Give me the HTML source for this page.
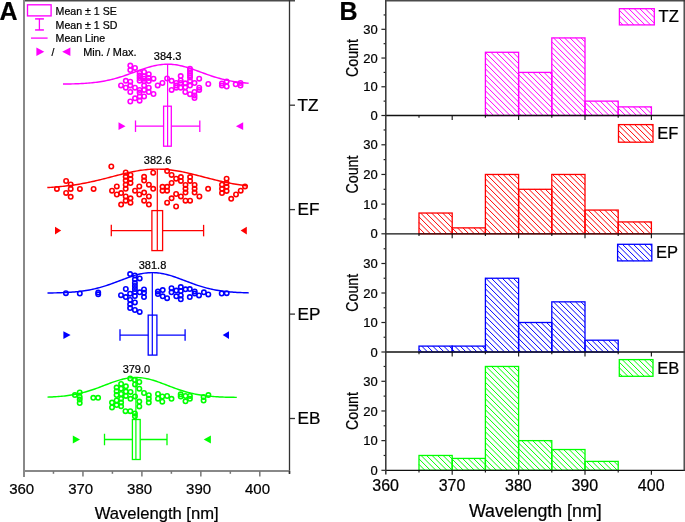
<!DOCTYPE html><html><head><meta charset="utf-8"><style>html,body{margin:0;padding:0;background:#fff;}svg{display:block;will-change:transform;}text{font-family:"Liberation Sans", sans-serif;stroke:#000;stroke-width:0.22px;}</style></head><body>
<svg width="685" height="522" viewBox="0 0 685 522">
<rect width="685" height="522" fill="#fff"/>
<line x1="24.0" y1="0.75" x2="295" y2="0.75" stroke="#4a4a4a" stroke-width="1.5"/>
<line x1="289.5" y1="0" x2="289.5" y2="474" stroke="#333" stroke-width="1.3"/>
<line x1="24.0" y1="0" x2="24.0" y2="477" stroke="#888" stroke-width="2"/>
<line x1="24.0" y1="471.0" x2="289.5" y2="471.0" stroke="#888" stroke-width="1.8"/>
<line x1="53.47" y1="471.0" x2="53.47" y2="473.8" stroke="#777" stroke-width="1.5"/>
<line x1="82.95" y1="471.0" x2="82.95" y2="476.5" stroke="#777" stroke-width="1.5"/>
<line x1="112.42" y1="471.0" x2="112.42" y2="473.8" stroke="#777" stroke-width="1.5"/>
<line x1="141.9" y1="471.0" x2="141.9" y2="476.5" stroke="#777" stroke-width="1.5"/>
<line x1="171.38" y1="471.0" x2="171.38" y2="473.8" stroke="#777" stroke-width="1.5"/>
<line x1="200.85" y1="471.0" x2="200.85" y2="476.5" stroke="#777" stroke-width="1.5"/>
<line x1="230.32" y1="471.0" x2="230.32" y2="473.8" stroke="#777" stroke-width="1.5"/>
<line x1="259.8" y1="471.0" x2="259.8" y2="476.5" stroke="#777" stroke-width="1.5"/>
<line x1="289.5" y1="471.0" x2="289.5" y2="473.8" stroke="#333" stroke-width="1.5"/>
<text transform="translate(21.7,494.4) scale(1,1)" font-size="15" text-anchor="middle" fill="#000">360</text>
<text transform="translate(80.65,494.4) scale(1,1)" font-size="15" text-anchor="middle" fill="#000">370</text>
<text transform="translate(139.6,494.4) scale(1,1)" font-size="15" text-anchor="middle" fill="#000">380</text>
<text transform="translate(198.55,494.4) scale(1,1)" font-size="15" text-anchor="middle" fill="#000">390</text>
<text transform="translate(257.5,494.4) scale(1,1)" font-size="15" text-anchor="middle" fill="#000">400</text>
<text x="156.7" y="519.1" font-size="16.6" text-anchor="middle" fill="#000">Wavelength [nm]</text>
<line x1="289.5" y1="105.2" x2="295" y2="105.2" stroke="#333" stroke-width="1.3"/>
<text transform="translate(297.5,110.8) scale(1.1,1)" font-size="15.6" fill="#000" stroke="#000" stroke-width="0.25">TZ</text>
<line x1="289.5" y1="209.6" x2="295" y2="209.6" stroke="#333" stroke-width="1.3"/>
<text transform="translate(297.5,215.2) scale(1.1,1)" font-size="15.6" fill="#000" stroke="#000" stroke-width="0.25">EF</text>
<line x1="289.5" y1="314.1" x2="295" y2="314.1" stroke="#333" stroke-width="1.3"/>
<text transform="translate(297.5,319.7) scale(1.1,1)" font-size="15.6" fill="#000" stroke="#000" stroke-width="0.25">EP</text>
<line x1="289.5" y1="418.5" x2="295" y2="418.5" stroke="#333" stroke-width="1.3"/>
<text transform="translate(297.5,424.1) scale(1.1,1)" font-size="15.6" fill="#000" stroke="#000" stroke-width="0.25">EB</text>
<text x="-0.6" y="19.7" font-size="25" font-weight="bold" fill="#000">A</text>
<rect x="27.5" y="4.8" width="23.6" height="11.1" fill="none" stroke="#ff00ff" stroke-width="1.35"/>
<line x1="39.4" y1="18.9" x2="39.4" y2="29.95" stroke="#ff00ff" stroke-width="1.3"/>
<line x1="35.1" y1="18.9" x2="43.9" y2="18.9" stroke="#ff00ff" stroke-width="1.5"/>
<line x1="35.1" y1="29.95" x2="43.9" y2="29.95" stroke="#ff00ff" stroke-width="1.5"/>
<line x1="31" y1="38.1" x2="47.6" y2="38.1" stroke="#ff00ff" stroke-width="1.3"/>
<polygon points="36.4,47.5 44.3,51.8 36.4,56.1" fill="#ff00ff"/>
<polygon points="70.4,47.5 62.2,51.8 70.4,56.1" fill="#ff00ff"/>
<text x="55.6" y="14.6" font-size="10.6" fill="#000">Mean ± 1 SE</text>
<text x="55.6" y="28.5" font-size="10.6" fill="#000">Mean ± 1 SD</text>
<text x="55.6" y="42.4" font-size="10.6" fill="#000">Mean Line</text>
<text x="51.5" y="56.2" font-size="10.4" fill="#000">/</text>
<text x="83.2" y="56.3" font-size="10.9" fill="#000">Min. / Max.</text>
<polyline points="63,84.07 64.55,84.05 66.09,84.02 67.64,84 69.19,83.97 70.73,83.93 72.28,83.89 73.83,83.85 75.37,83.8 76.92,83.74 78.47,83.68 80.01,83.61 81.56,83.53 83.11,83.45 84.65,83.35 86.2,83.25 87.75,83.13 89.29,83 90.84,82.86 92.39,82.71 93.93,82.54 95.48,82.36 97.03,82.17 98.57,81.96 100.12,81.73 101.67,81.48 103.21,81.22 104.76,80.94 106.31,80.64 107.85,80.32 109.4,79.98 110.95,79.62 112.49,79.24 114.04,78.84 115.59,78.42 117.13,77.99 118.68,77.53 120.23,77.06 121.77,76.57 123.32,76.07 124.87,75.55 126.41,75.02 127.96,74.48 129.51,73.93 131.05,73.37 132.6,72.8 134.15,72.24 135.69,71.67 137.24,71.1 138.79,70.54 140.33,69.98 141.88,69.44 143.43,68.91 144.97,68.39 146.52,67.89 148.07,67.41 149.61,66.96 151.16,66.53 152.71,66.14 154.25,65.77 155.8,65.44 157.35,65.14 158.89,64.88 160.44,64.67 161.99,64.49 163.53,64.35 165.08,64.26 166.63,64.21 168.17,64.2 169.72,64.24 171.27,64.32 172.81,64.45 174.36,64.62 175.91,64.82 177.45,65.07 179,65.36 180.55,65.68 182.09,66.04 183.64,66.43 185.19,66.85 186.73,67.29 188.28,67.77 189.83,68.26 191.37,68.77 192.92,69.3 194.47,69.84 196.01,70.39 197.56,70.96 199.11,71.52 200.65,72.09 202.2,72.66 203.75,73.22 205.29,73.78 206.84,74.34 208.39,74.88 209.93,75.42 211.48,75.94 213.03,76.45 214.57,76.94 216.12,77.41 217.67,77.87 219.21,78.31 220.76,78.74 222.31,79.14 223.85,79.52 225.4,79.89 226.95,80.23 228.49,80.56 230.04,80.86 231.59,81.15 233.13,81.42 234.68,81.67 236.23,81.9 237.77,82.11 239.32,82.31 240.87,82.5 242.41,82.67 243.96,82.82 245.51,82.97 247.05,83.1 248.6,83.22" fill="none" stroke="#ff00ff" stroke-width="1.45"/>
<line x1="167.6" y1="64.2" x2="167.6" y2="146.2" stroke="#ff00ff" stroke-width="1.2"/>
<line x1="135.5" y1="126.2" x2="199.8" y2="126.2" stroke="#ff00ff" stroke-width="1.3"/>
<line x1="135.5" y1="120.45" x2="135.5" y2="131.95" stroke="#ff00ff" stroke-width="1.3"/>
<line x1="199.8" y1="120.45" x2="199.8" y2="131.95" stroke="#ff00ff" stroke-width="1.3"/>
<rect x="163.6" y="106.2" width="7.7" height="40" fill="#fff" stroke="#ff00ff" stroke-width="1.3"/>
<line x1="167.6" y1="106.2" x2="167.6" y2="146.2" stroke="#ff00ff" stroke-width="1.2"/>
<polygon points="118.5,122.3 125.5,126.2 118.5,130.1" fill="#ff00ff"/>
<polygon points="243.2,122.3 235.9,126.2 243.2,130.1" fill="#ff00ff"/>
<text x="167.6" y="59.9" font-size="11" text-anchor="middle" fill="#000">384.3</text>
<circle cx="130.3" cy="65.6" r="2.2" fill="none" stroke="#ff00ff" stroke-width="1.6"/>
<circle cx="135" cy="67.9" r="2.2" fill="none" stroke="#ff00ff" stroke-width="1.6"/>
<circle cx="130.3" cy="70.1" r="2.2" fill="none" stroke="#ff00ff" stroke-width="1.6"/>
<circle cx="139.6" cy="72.8" r="2.2" fill="none" stroke="#ff00ff" stroke-width="1.6"/>
<circle cx="139.6" cy="75.4" r="2.2" fill="none" stroke="#ff00ff" stroke-width="1.6"/>
<circle cx="139.6" cy="78.1" r="2.2" fill="none" stroke="#ff00ff" stroke-width="1.6"/>
<circle cx="139.6" cy="80.7" r="2.2" fill="none" stroke="#ff00ff" stroke-width="1.6"/>
<circle cx="144.1" cy="72" r="2.2" fill="none" stroke="#ff00ff" stroke-width="1.6"/>
<circle cx="144.1" cy="76.5" r="2.2" fill="none" stroke="#ff00ff" stroke-width="1.6"/>
<circle cx="144.1" cy="78.7" r="2.2" fill="none" stroke="#ff00ff" stroke-width="1.6"/>
<circle cx="144.1" cy="81.3" r="2.2" fill="none" stroke="#ff00ff" stroke-width="1.6"/>
<circle cx="148.8" cy="74.2" r="2.2" fill="none" stroke="#ff00ff" stroke-width="1.6"/>
<circle cx="148.8" cy="78" r="2.2" fill="none" stroke="#ff00ff" stroke-width="1.6"/>
<circle cx="148.8" cy="81.1" r="2.2" fill="none" stroke="#ff00ff" stroke-width="1.6"/>
<circle cx="153.5" cy="78.7" r="2.2" fill="none" stroke="#ff00ff" stroke-width="1.6"/>
<circle cx="125.8" cy="80.8" r="2.2" fill="none" stroke="#ff00ff" stroke-width="1.6"/>
<circle cx="130.3" cy="81.7" r="2.2" fill="none" stroke="#ff00ff" stroke-width="1.6"/>
<circle cx="121" cy="85.4" r="2.2" fill="none" stroke="#ff00ff" stroke-width="1.6"/>
<circle cx="125.8" cy="87.7" r="2.2" fill="none" stroke="#ff00ff" stroke-width="1.6"/>
<circle cx="130.3" cy="85.4" r="2.2" fill="none" stroke="#ff00ff" stroke-width="1.6"/>
<circle cx="135" cy="87.7" r="2.2" fill="none" stroke="#ff00ff" stroke-width="1.6"/>
<circle cx="139.6" cy="89.9" r="2.2" fill="none" stroke="#ff00ff" stroke-width="1.6"/>
<circle cx="144.1" cy="85.4" r="2.2" fill="none" stroke="#ff00ff" stroke-width="1.6"/>
<circle cx="144.1" cy="89.9" r="2.2" fill="none" stroke="#ff00ff" stroke-width="1.6"/>
<circle cx="148.8" cy="87.7" r="2.2" fill="none" stroke="#ff00ff" stroke-width="1.6"/>
<circle cx="148.8" cy="92" r="2.2" fill="none" stroke="#ff00ff" stroke-width="1.6"/>
<circle cx="130.3" cy="92" r="2.2" fill="none" stroke="#ff00ff" stroke-width="1.6"/>
<circle cx="139.6" cy="92.5" r="2.2" fill="none" stroke="#ff00ff" stroke-width="1.6"/>
<circle cx="144.1" cy="96.4" r="2.2" fill="none" stroke="#ff00ff" stroke-width="1.6"/>
<circle cx="139.6" cy="96.4" r="2.2" fill="none" stroke="#ff00ff" stroke-width="1.6"/>
<circle cx="135" cy="98.3" r="2.2" fill="none" stroke="#ff00ff" stroke-width="1.6"/>
<circle cx="153.5" cy="94" r="2.2" fill="none" stroke="#ff00ff" stroke-width="1.6"/>
<circle cx="130.3" cy="101.5" r="2.2" fill="none" stroke="#ff00ff" stroke-width="1.6"/>
<circle cx="139.6" cy="100.7" r="2.2" fill="none" stroke="#ff00ff" stroke-width="1.6"/>
<circle cx="157.7" cy="85.4" r="2.2" fill="none" stroke="#ff00ff" stroke-width="1.6"/>
<circle cx="162.4" cy="83" r="2.2" fill="none" stroke="#ff00ff" stroke-width="1.6"/>
<circle cx="167.1" cy="78.5" r="2.2" fill="none" stroke="#ff00ff" stroke-width="1.6"/>
<circle cx="171.6" cy="80.8" r="2.2" fill="none" stroke="#ff00ff" stroke-width="1.6"/>
<circle cx="171.6" cy="89.9" r="2.2" fill="none" stroke="#ff00ff" stroke-width="1.6"/>
<circle cx="176.2" cy="83" r="2.2" fill="none" stroke="#ff00ff" stroke-width="1.6"/>
<circle cx="176.2" cy="85.5" r="2.2" fill="none" stroke="#ff00ff" stroke-width="1.6"/>
<circle cx="176.2" cy="87.7" r="2.2" fill="none" stroke="#ff00ff" stroke-width="1.6"/>
<circle cx="180.7" cy="76.1" r="2.2" fill="none" stroke="#ff00ff" stroke-width="1.6"/>
<circle cx="180.7" cy="80.4" r="2.2" fill="none" stroke="#ff00ff" stroke-width="1.6"/>
<circle cx="180.7" cy="83" r="2.2" fill="none" stroke="#ff00ff" stroke-width="1.6"/>
<circle cx="180.7" cy="87.7" r="2.2" fill="none" stroke="#ff00ff" stroke-width="1.6"/>
<circle cx="185.3" cy="83.3" r="2.2" fill="none" stroke="#ff00ff" stroke-width="1.6"/>
<circle cx="185.3" cy="87.3" r="2.2" fill="none" stroke="#ff00ff" stroke-width="1.6"/>
<circle cx="185.3" cy="92" r="2.2" fill="none" stroke="#ff00ff" stroke-width="1.6"/>
<circle cx="190" cy="68.8" r="2.2" fill="none" stroke="#ff00ff" stroke-width="1.6"/>
<circle cx="190" cy="71" r="2.2" fill="none" stroke="#ff00ff" stroke-width="1.6"/>
<circle cx="190" cy="73.2" r="2.2" fill="none" stroke="#ff00ff" stroke-width="1.6"/>
<circle cx="190" cy="75.4" r="2.2" fill="none" stroke="#ff00ff" stroke-width="1.6"/>
<circle cx="190" cy="77.6" r="2.2" fill="none" stroke="#ff00ff" stroke-width="1.6"/>
<circle cx="190" cy="80.9" r="2.2" fill="none" stroke="#ff00ff" stroke-width="1.6"/>
<circle cx="190" cy="85.6" r="2.2" fill="none" stroke="#ff00ff" stroke-width="1.6"/>
<circle cx="190" cy="94.2" r="2.2" fill="none" stroke="#ff00ff" stroke-width="1.6"/>
<circle cx="194.5" cy="83" r="2.2" fill="none" stroke="#ff00ff" stroke-width="1.6"/>
<circle cx="194.5" cy="92" r="2.2" fill="none" stroke="#ff00ff" stroke-width="1.6"/>
<circle cx="194.5" cy="95.5" r="2.2" fill="none" stroke="#ff00ff" stroke-width="1.6"/>
<circle cx="194.5" cy="98.1" r="2.2" fill="none" stroke="#ff00ff" stroke-width="1.6"/>
<circle cx="199.2" cy="78.7" r="2.2" fill="none" stroke="#ff00ff" stroke-width="1.6"/>
<circle cx="199.2" cy="87.7" r="2.2" fill="none" stroke="#ff00ff" stroke-width="1.6"/>
<circle cx="199.2" cy="89.9" r="2.2" fill="none" stroke="#ff00ff" stroke-width="1.6"/>
<circle cx="208.3" cy="84" r="2.2" fill="none" stroke="#ff00ff" stroke-width="1.6"/>
<circle cx="221.9" cy="83.4" r="2.2" fill="none" stroke="#ff00ff" stroke-width="1.6"/>
<circle cx="221.9" cy="85.6" r="2.2" fill="none" stroke="#ff00ff" stroke-width="1.6"/>
<circle cx="226.7" cy="81.6" r="2.2" fill="none" stroke="#ff00ff" stroke-width="1.6"/>
<circle cx="226.7" cy="86.5" r="2.2" fill="none" stroke="#ff00ff" stroke-width="1.6"/>
<circle cx="235.7" cy="84.3" r="2.2" fill="none" stroke="#ff00ff" stroke-width="1.6"/>
<circle cx="240.5" cy="83" r="2.2" fill="none" stroke="#ff00ff" stroke-width="1.6"/>
<circle cx="240.5" cy="85.6" r="2.2" fill="none" stroke="#ff00ff" stroke-width="1.6"/>
<polyline points="47.3,187.55 48.97,187.45 50.64,187.35 52.31,187.24 53.98,187.12 55.65,186.99 57.32,186.86 59,186.71 60.67,186.56 62.34,186.39 64.01,186.22 65.68,186.03 67.35,185.84 69.02,185.63 70.69,185.41 72.36,185.19 74.03,184.95 75.7,184.69 77.38,184.43 79.05,184.16 80.72,183.87 82.39,183.57 84.06,183.26 85.73,182.94 87.4,182.61 89.07,182.26 90.74,181.91 92.41,181.55 94.08,181.17 95.75,180.79 97.42,180.4 99.1,180 100.77,179.59 102.44,179.17 104.11,178.75 105.78,178.33 107.45,177.9 109.12,177.47 110.79,177.03 112.46,176.6 114.13,176.17 115.8,175.73 117.47,175.31 119.15,174.88 120.82,174.46 122.49,174.05 124.16,173.64 125.83,173.25 127.5,172.86 129.17,172.49 130.84,172.13 132.51,171.79 134.18,171.46 135.85,171.15 137.52,170.86 139.2,170.58 140.87,170.33 142.54,170.1 144.21,169.89 145.88,169.7 147.55,169.54 149.22,169.4 150.89,169.29 152.56,169.21 154.23,169.14 155.9,169.11 157.57,169.1 159.25,169.12 160.92,169.16 162.59,169.23 164.26,169.33 165.93,169.45 167.6,169.59 169.27,169.76 170.94,169.96 172.61,170.17 174.28,170.41 175.95,170.67 177.62,170.95 179.3,171.25 180.97,171.57 182.64,171.9 184.31,172.25 185.98,172.61 187.65,172.99 189.32,173.38 190.99,173.78 192.66,174.18 194.33,174.6 196,175.02 197.68,175.45 199.35,175.88 201.02,176.31 202.69,176.74 204.36,177.18 206.03,177.61 207.7,178.04 209.37,178.47 211.04,178.89 212.71,179.31 214.38,179.72 216.05,180.13 217.73,180.53 219.4,180.92 221.07,181.3 222.74,181.67 224.41,182.03 226.08,182.38 227.75,182.72 229.42,183.05 231.09,183.37 232.76,183.67 234.43,183.97 236.1,184.25 237.77,184.52 239.45,184.78 241.12,185.03 242.79,185.26 244.46,185.49 246.13,185.7 247.8,185.9" fill="none" stroke="#ff0000" stroke-width="1.45"/>
<line x1="157.3" y1="169.1" x2="157.3" y2="250.6" stroke="#ff0000" stroke-width="1.2"/>
<line x1="111.3" y1="230.6" x2="203.6" y2="230.6" stroke="#ff0000" stroke-width="1.3"/>
<line x1="111.3" y1="224.85" x2="111.3" y2="236.35" stroke="#ff0000" stroke-width="1.3"/>
<line x1="203.6" y1="224.85" x2="203.6" y2="236.35" stroke="#ff0000" stroke-width="1.3"/>
<rect x="151.9" y="210.6" width="10.7" height="40" fill="#fff" stroke="#ff0000" stroke-width="1.3"/>
<line x1="157.3" y1="210.6" x2="157.3" y2="250.6" stroke="#ff0000" stroke-width="1.2"/>
<polygon points="55,226.7 61.2,230.6 55,234.5" fill="#ff0000"/>
<polygon points="246.8,226.7 240.6,230.6 246.8,234.5" fill="#ff0000"/>
<text x="157.6" y="164.3" font-size="11" text-anchor="middle" fill="#000">382.6</text>
<circle cx="56.9" cy="188.9" r="2.2" fill="none" stroke="#ff0000" stroke-width="1.6"/>
<circle cx="66.1" cy="181" r="2.2" fill="none" stroke="#ff0000" stroke-width="1.6"/>
<circle cx="70.7" cy="184.5" r="2.2" fill="none" stroke="#ff0000" stroke-width="1.6"/>
<circle cx="70.7" cy="188.9" r="2.2" fill="none" stroke="#ff0000" stroke-width="1.6"/>
<circle cx="66.1" cy="192.9" r="2.2" fill="none" stroke="#ff0000" stroke-width="1.6"/>
<circle cx="70.7" cy="196.8" r="2.2" fill="none" stroke="#ff0000" stroke-width="1.6"/>
<circle cx="79.9" cy="188.9" r="2.2" fill="none" stroke="#ff0000" stroke-width="1.6"/>
<circle cx="93.6" cy="188.9" r="2.2" fill="none" stroke="#ff0000" stroke-width="1.6"/>
<circle cx="111.3" cy="166.5" r="2.2" fill="none" stroke="#ff0000" stroke-width="1.6"/>
<circle cx="112" cy="190.7" r="2.2" fill="none" stroke="#ff0000" stroke-width="1.6"/>
<circle cx="125.7" cy="172.5" r="2.2" fill="none" stroke="#ff0000" stroke-width="1.6"/>
<circle cx="125.7" cy="176.8" r="2.2" fill="none" stroke="#ff0000" stroke-width="1.6"/>
<circle cx="125.7" cy="180.6" r="2.2" fill="none" stroke="#ff0000" stroke-width="1.6"/>
<circle cx="125.7" cy="184.7" r="2.2" fill="none" stroke="#ff0000" stroke-width="1.6"/>
<circle cx="125.7" cy="188.8" r="2.2" fill="none" stroke="#ff0000" stroke-width="1.6"/>
<circle cx="130.5" cy="174.9" r="2.2" fill="none" stroke="#ff0000" stroke-width="1.6"/>
<circle cx="130.5" cy="179" r="2.2" fill="none" stroke="#ff0000" stroke-width="1.6"/>
<circle cx="130.5" cy="183" r="2.2" fill="none" stroke="#ff0000" stroke-width="1.6"/>
<circle cx="116.8" cy="186.4" r="2.2" fill="none" stroke="#ff0000" stroke-width="1.6"/>
<circle cx="116.8" cy="194.5" r="2.2" fill="none" stroke="#ff0000" stroke-width="1.6"/>
<circle cx="121.1" cy="193.1" r="2.2" fill="none" stroke="#ff0000" stroke-width="1.6"/>
<circle cx="125.7" cy="196.4" r="2.2" fill="none" stroke="#ff0000" stroke-width="1.6"/>
<circle cx="125.7" cy="200.7" r="2.2" fill="none" stroke="#ff0000" stroke-width="1.6"/>
<circle cx="130.5" cy="198.3" r="2.2" fill="none" stroke="#ff0000" stroke-width="1.6"/>
<circle cx="130.5" cy="202.7" r="2.2" fill="none" stroke="#ff0000" stroke-width="1.6"/>
<circle cx="121.1" cy="204.6" r="2.2" fill="none" stroke="#ff0000" stroke-width="1.6"/>
<circle cx="153.2" cy="172.7" r="2.2" fill="none" stroke="#ff0000" stroke-width="1.6"/>
<circle cx="144.1" cy="176.8" r="2.2" fill="none" stroke="#ff0000" stroke-width="1.6"/>
<circle cx="144.1" cy="180.6" r="2.2" fill="none" stroke="#ff0000" stroke-width="1.6"/>
<circle cx="148.9" cy="184.7" r="2.2" fill="none" stroke="#ff0000" stroke-width="1.6"/>
<circle cx="153.2" cy="188.8" r="2.2" fill="none" stroke="#ff0000" stroke-width="1.6"/>
<circle cx="139.3" cy="186.4" r="2.2" fill="none" stroke="#ff0000" stroke-width="1.6"/>
<circle cx="135" cy="190.7" r="2.2" fill="none" stroke="#ff0000" stroke-width="1.6"/>
<circle cx="139.3" cy="194.5" r="2.2" fill="none" stroke="#ff0000" stroke-width="1.6"/>
<circle cx="144.1" cy="192.6" r="2.2" fill="none" stroke="#ff0000" stroke-width="1.6"/>
<circle cx="148.9" cy="196.4" r="2.2" fill="none" stroke="#ff0000" stroke-width="1.6"/>
<circle cx="144.1" cy="200.7" r="2.2" fill="none" stroke="#ff0000" stroke-width="1.6"/>
<circle cx="148.9" cy="204.6" r="2.2" fill="none" stroke="#ff0000" stroke-width="1.6"/>
<circle cx="167.1" cy="171" r="2.2" fill="none" stroke="#ff0000" stroke-width="1.6"/>
<circle cx="171.6" cy="174.9" r="2.2" fill="none" stroke="#ff0000" stroke-width="1.6"/>
<circle cx="176.1" cy="178.7" r="2.2" fill="none" stroke="#ff0000" stroke-width="1.6"/>
<circle cx="171.6" cy="183" r="2.2" fill="none" stroke="#ff0000" stroke-width="1.6"/>
<circle cx="162.5" cy="186.8" r="2.2" fill="none" stroke="#ff0000" stroke-width="1.6"/>
<circle cx="167.1" cy="186.8" r="2.2" fill="none" stroke="#ff0000" stroke-width="1.6"/>
<circle cx="162.5" cy="190.7" r="2.2" fill="none" stroke="#ff0000" stroke-width="1.6"/>
<circle cx="167.1" cy="190.7" r="2.2" fill="none" stroke="#ff0000" stroke-width="1.6"/>
<circle cx="180.9" cy="177.1" r="2.2" fill="none" stroke="#ff0000" stroke-width="1.6"/>
<circle cx="180.9" cy="180.9" r="2.2" fill="none" stroke="#ff0000" stroke-width="1.6"/>
<circle cx="190.1" cy="177.1" r="2.2" fill="none" stroke="#ff0000" stroke-width="1.6"/>
<circle cx="190.1" cy="180.9" r="2.2" fill="none" stroke="#ff0000" stroke-width="1.6"/>
<circle cx="185.5" cy="184.9" r="2.2" fill="none" stroke="#ff0000" stroke-width="1.6"/>
<circle cx="185.5" cy="188.8" r="2.2" fill="none" stroke="#ff0000" stroke-width="1.6"/>
<circle cx="185.5" cy="192.6" r="2.2" fill="none" stroke="#ff0000" stroke-width="1.6"/>
<circle cx="194.6" cy="184.9" r="2.2" fill="none" stroke="#ff0000" stroke-width="1.6"/>
<circle cx="194.6" cy="188.8" r="2.2" fill="none" stroke="#ff0000" stroke-width="1.6"/>
<circle cx="194.6" cy="192.6" r="2.2" fill="none" stroke="#ff0000" stroke-width="1.6"/>
<circle cx="176.1" cy="194" r="2.2" fill="none" stroke="#ff0000" stroke-width="1.6"/>
<circle cx="171.6" cy="198.3" r="2.2" fill="none" stroke="#ff0000" stroke-width="1.6"/>
<circle cx="167.1" cy="202.7" r="2.2" fill="none" stroke="#ff0000" stroke-width="1.6"/>
<circle cx="180.9" cy="196.4" r="2.2" fill="none" stroke="#ff0000" stroke-width="1.6"/>
<circle cx="185.5" cy="200.7" r="2.2" fill="none" stroke="#ff0000" stroke-width="1.6"/>
<circle cx="190.1" cy="200.7" r="2.2" fill="none" stroke="#ff0000" stroke-width="1.6"/>
<circle cx="199.4" cy="196.4" r="2.2" fill="none" stroke="#ff0000" stroke-width="1.6"/>
<circle cx="176.1" cy="206.5" r="2.2" fill="none" stroke="#ff0000" stroke-width="1.6"/>
<circle cx="208.1" cy="188.8" r="2.2" fill="none" stroke="#ff0000" stroke-width="1.6"/>
<circle cx="226.6" cy="178.7" r="2.2" fill="none" stroke="#ff0000" stroke-width="1.6"/>
<circle cx="222" cy="184.7" r="2.2" fill="none" stroke="#ff0000" stroke-width="1.6"/>
<circle cx="222" cy="188.8" r="2.2" fill="none" stroke="#ff0000" stroke-width="1.6"/>
<circle cx="222" cy="193.1" r="2.2" fill="none" stroke="#ff0000" stroke-width="1.6"/>
<circle cx="226.6" cy="183" r="2.2" fill="none" stroke="#ff0000" stroke-width="1.6"/>
<circle cx="226.6" cy="186.8" r="2.2" fill="none" stroke="#ff0000" stroke-width="1.6"/>
<circle cx="226.6" cy="190.9" r="2.2" fill="none" stroke="#ff0000" stroke-width="1.6"/>
<circle cx="245" cy="186.4" r="2.2" fill="none" stroke="#ff0000" stroke-width="1.6"/>
<circle cx="240.7" cy="190.7" r="2.2" fill="none" stroke="#ff0000" stroke-width="1.6"/>
<circle cx="236" cy="194.5" r="2.2" fill="none" stroke="#ff0000" stroke-width="1.6"/>
<circle cx="231.2" cy="198.8" r="2.2" fill="none" stroke="#ff0000" stroke-width="1.6"/>
<polyline points="47.5,292.99 49.18,292.97 50.85,292.94 52.53,292.92 54.21,292.88 55.89,292.85 57.56,292.81 59.24,292.76 60.92,292.71 62.6,292.65 64.28,292.58 65.95,292.5 67.63,292.41 69.31,292.31 70.98,292.2 72.66,292.08 74.34,291.95 76.02,291.8 77.69,291.63 79.37,291.45 81.05,291.25 82.73,291.03 84.41,290.79 86.08,290.53 87.76,290.25 89.44,289.94 91.12,289.62 92.79,289.27 94.47,288.89 96.15,288.49 97.83,288.07 99.5,287.62 101.18,287.15 102.86,286.66 104.53,286.14 106.21,285.6 107.89,285.04 109.57,284.46 111.25,283.87 112.92,283.26 114.6,282.64 116.28,282.01 117.95,281.37 119.63,280.73 121.31,280.09 122.99,279.45 124.67,278.82 126.34,278.2 128.02,277.59 129.7,277 131.38,276.44 133.05,275.9 134.73,275.39 136.41,274.91 138.09,274.47 139.76,274.07 141.44,273.71 143.12,273.4 144.8,273.14 146.47,272.93 148.15,272.77 149.83,272.66 151.5,272.61 153.18,272.61 154.86,272.66 156.54,272.77 158.22,272.94 159.89,273.15 161.57,273.42 163.25,273.73 164.93,274.09 166.6,274.49 168.28,274.93 169.96,275.41 171.63,275.92 173.31,276.47 174.99,277.03 176.67,277.62 178.34,278.23 180.02,278.85 181.7,279.48 183.38,280.12 185.06,280.76 186.73,281.4 188.41,282.04 190.09,282.67 191.76,283.29 193.44,283.9 195.12,284.49 196.8,285.07 198.47,285.63 200.15,286.17 201.83,286.68 203.51,287.18 205.19,287.65 206.86,288.09 208.54,288.51 210.22,288.91 211.9,289.28 213.57,289.63 215.25,289.96 216.93,290.26 218.61,290.54 220.28,290.8 221.96,291.04 223.64,291.26 225.32,291.46 226.99,291.64 228.67,291.8 230.35,291.95 232.03,292.09 233.7,292.21 235.38,292.32 237.06,292.42 238.74,292.5 240.41,292.58 242.09,292.65 243.77,292.71 245.45,292.76 247.12,292.81 248.8,292.85" fill="none" stroke="#0000ff" stroke-width="1.45"/>
<line x1="152.3" y1="272.6" x2="152.3" y2="355.1" stroke="#0000ff" stroke-width="1.2"/>
<line x1="120" y1="335.1" x2="185.1" y2="335.1" stroke="#0000ff" stroke-width="1.3"/>
<line x1="120" y1="329.35" x2="120" y2="340.85" stroke="#0000ff" stroke-width="1.3"/>
<line x1="185.1" y1="329.35" x2="185.1" y2="340.85" stroke="#0000ff" stroke-width="1.3"/>
<rect x="148.2" y="315.1" width="8.7" height="40" fill="#fff" stroke="#0000ff" stroke-width="1.3"/>
<line x1="152.3" y1="315.1" x2="152.3" y2="355.1" stroke="#0000ff" stroke-width="1.2"/>
<polygon points="63.4,331.2 70.6,335.1 63.4,339" fill="#0000ff"/>
<polygon points="229,331.2 222.7,335.1 229,339" fill="#0000ff"/>
<text x="152.5" y="268.8" font-size="11" text-anchor="middle" fill="#000">381.8</text>
<circle cx="65.9" cy="293.2" r="2.2" fill="none" stroke="#0000ff" stroke-width="1.6"/>
<circle cx="79.8" cy="293.5" r="2.2" fill="none" stroke="#0000ff" stroke-width="1.6"/>
<circle cx="98.2" cy="292.6" r="2.2" fill="none" stroke="#0000ff" stroke-width="1.6"/>
<circle cx="98.2" cy="294.3" r="2.2" fill="none" stroke="#0000ff" stroke-width="1.6"/>
<circle cx="130.1" cy="274.1" r="2.2" fill="none" stroke="#0000ff" stroke-width="1.6"/>
<circle cx="134.9" cy="275.5" r="2.2" fill="none" stroke="#0000ff" stroke-width="1.6"/>
<circle cx="139.7" cy="278.4" r="2.2" fill="none" stroke="#0000ff" stroke-width="1.6"/>
<circle cx="134.9" cy="279.5" r="2.2" fill="none" stroke="#0000ff" stroke-width="1.6"/>
<circle cx="134.9" cy="283" r="2.2" fill="none" stroke="#0000ff" stroke-width="1.6"/>
<circle cx="134.9" cy="286" r="2.2" fill="none" stroke="#0000ff" stroke-width="1.6"/>
<circle cx="134.9" cy="289" r="2.2" fill="none" stroke="#0000ff" stroke-width="1.6"/>
<circle cx="134.9" cy="292" r="2.2" fill="none" stroke="#0000ff" stroke-width="1.6"/>
<circle cx="134.9" cy="296" r="2.2" fill="none" stroke="#0000ff" stroke-width="1.6"/>
<circle cx="125.8" cy="289" r="2.2" fill="none" stroke="#0000ff" stroke-width="1.6"/>
<circle cx="121" cy="295.2" r="2.2" fill="none" stroke="#0000ff" stroke-width="1.6"/>
<circle cx="125.8" cy="297.1" r="2.2" fill="none" stroke="#0000ff" stroke-width="1.6"/>
<circle cx="130.1" cy="293.7" r="2.2" fill="none" stroke="#0000ff" stroke-width="1.6"/>
<circle cx="130.1" cy="300" r="2.2" fill="none" stroke="#0000ff" stroke-width="1.6"/>
<circle cx="130.1" cy="304.3" r="2.2" fill="none" stroke="#0000ff" stroke-width="1.6"/>
<circle cx="130.1" cy="308.1" r="2.2" fill="none" stroke="#0000ff" stroke-width="1.6"/>
<circle cx="134.9" cy="302.4" r="2.2" fill="none" stroke="#0000ff" stroke-width="1.6"/>
<circle cx="134.9" cy="310" r="2.2" fill="none" stroke="#0000ff" stroke-width="1.6"/>
<circle cx="139.7" cy="311.9" r="2.2" fill="none" stroke="#0000ff" stroke-width="1.6"/>
<circle cx="139.7" cy="292.3" r="2.2" fill="none" stroke="#0000ff" stroke-width="1.6"/>
<circle cx="144" cy="289.4" r="2.2" fill="none" stroke="#0000ff" stroke-width="1.6"/>
<circle cx="144" cy="292.8" r="2.2" fill="none" stroke="#0000ff" stroke-width="1.6"/>
<circle cx="144" cy="297.1" r="2.2" fill="none" stroke="#0000ff" stroke-width="1.6"/>
<circle cx="157.9" cy="291.6" r="2.2" fill="none" stroke="#0000ff" stroke-width="1.6"/>
<circle cx="157.9" cy="294.1" r="2.2" fill="none" stroke="#0000ff" stroke-width="1.6"/>
<circle cx="162.7" cy="290.1" r="2.2" fill="none" stroke="#0000ff" stroke-width="1.6"/>
<circle cx="162.7" cy="296.3" r="2.2" fill="none" stroke="#0000ff" stroke-width="1.6"/>
<circle cx="167.1" cy="298.2" r="2.2" fill="none" stroke="#0000ff" stroke-width="1.6"/>
<circle cx="171.5" cy="288.2" r="2.2" fill="none" stroke="#0000ff" stroke-width="1.6"/>
<circle cx="171.5" cy="292.3" r="2.2" fill="none" stroke="#0000ff" stroke-width="1.6"/>
<circle cx="176.3" cy="290.6" r="2.2" fill="none" stroke="#0000ff" stroke-width="1.6"/>
<circle cx="176.3" cy="296.3" r="2.2" fill="none" stroke="#0000ff" stroke-width="1.6"/>
<circle cx="180.8" cy="287.1" r="2.2" fill="none" stroke="#0000ff" stroke-width="1.6"/>
<circle cx="180.8" cy="291" r="2.2" fill="none" stroke="#0000ff" stroke-width="1.6"/>
<circle cx="180.8" cy="295.4" r="2.2" fill="none" stroke="#0000ff" stroke-width="1.6"/>
<circle cx="180.8" cy="299.3" r="2.2" fill="none" stroke="#0000ff" stroke-width="1.6"/>
<circle cx="185.5" cy="289.3" r="2.2" fill="none" stroke="#0000ff" stroke-width="1.6"/>
<circle cx="189.8" cy="289.1" r="2.2" fill="none" stroke="#0000ff" stroke-width="1.6"/>
<circle cx="189.8" cy="297.1" r="2.2" fill="none" stroke="#0000ff" stroke-width="1.6"/>
<circle cx="194.7" cy="291.5" r="2.2" fill="none" stroke="#0000ff" stroke-width="1.6"/>
<circle cx="194.7" cy="293.6" r="2.2" fill="none" stroke="#0000ff" stroke-width="1.6"/>
<circle cx="199" cy="295.4" r="2.2" fill="none" stroke="#0000ff" stroke-width="1.6"/>
<circle cx="203.9" cy="292.3" r="2.2" fill="none" stroke="#0000ff" stroke-width="1.6"/>
<circle cx="208.3" cy="294.4" r="2.2" fill="none" stroke="#0000ff" stroke-width="1.6"/>
<circle cx="221.7" cy="293.5" r="2.2" fill="none" stroke="#0000ff" stroke-width="1.6"/>
<circle cx="226.7" cy="293.2" r="2.2" fill="none" stroke="#0000ff" stroke-width="1.6"/>
<polyline points="47.5,397.11 49.08,397.05 50.66,396.99 52.23,396.91 53.81,396.83 55.39,396.74 56.97,396.63 58.54,396.52 60.12,396.39 61.7,396.25 63.27,396.1 64.85,395.93 66.43,395.74 68.01,395.54 69.59,395.32 71.16,395.08 72.74,394.82 74.32,394.54 75.89,394.24 77.47,393.92 79.05,393.58 80.63,393.21 82.21,392.82 83.78,392.41 85.36,391.98 86.94,391.52 88.52,391.05 90.09,390.55 91.67,390.04 93.25,389.5 94.83,388.95 96.4,388.39 97.98,387.81 99.56,387.22 101.14,386.62 102.71,386.02 104.29,385.41 105.87,384.8 107.45,384.2 109.02,383.6 110.6,383.01 112.18,382.44 113.76,381.88 115.33,381.34 116.91,380.82 118.49,380.33 120.07,379.87 121.64,379.45 123.22,379.06 124.8,378.7 126.38,378.39 127.95,378.13 129.53,377.9 131.11,377.73 132.69,377.6 134.26,377.53 135.84,377.5 137.42,377.52 139,377.6 140.57,377.72 142.15,377.89 143.73,378.11 145.31,378.37 146.88,378.68 148.46,379.03 150.04,379.42 151.62,379.84 153.19,380.3 154.77,380.79 156.35,381.3 157.93,381.84 159.5,382.4 161.08,382.97 162.66,383.56 164.24,384.15 165.81,384.76 167.39,385.37 168.97,385.97 170.55,386.58 172.12,387.17 173.7,387.76 175.28,388.34 176.85,388.91 178.43,389.46 180.01,390 181.59,390.51 183.17,391.01 184.74,391.49 186.32,391.94 187.9,392.38 189.47,392.79 191.05,393.18 192.63,393.55 194.21,393.89 195.78,394.22 197.36,394.52 198.94,394.8 200.52,395.06 202.09,395.3 203.67,395.52 205.25,395.73 206.83,395.91 208.41,396.09 209.98,396.24 211.56,396.38 213.14,396.51 214.72,396.63 216.29,396.73 217.87,396.82 219.45,396.91 221.03,396.98 222.6,397.05 224.18,397.11 225.76,397.16 227.34,397.2 228.91,397.24 230.49,397.28 232.07,397.31 233.65,397.34 235.22,397.36 236.8,397.38" fill="none" stroke="#00ff00" stroke-width="1.45"/>
<line x1="135.9" y1="377.5" x2="135.9" y2="459.5" stroke="#00ff00" stroke-width="1.2"/>
<line x1="104.5" y1="439.5" x2="167" y2="439.5" stroke="#00ff00" stroke-width="1.3"/>
<line x1="104.5" y1="433.75" x2="104.5" y2="445.25" stroke="#00ff00" stroke-width="1.3"/>
<line x1="167" y1="433.75" x2="167" y2="445.25" stroke="#00ff00" stroke-width="1.3"/>
<rect x="132.4" y="419.5" width="7.8" height="40" fill="#fff" stroke="#00ff00" stroke-width="1.3"/>
<line x1="135.9" y1="419.5" x2="135.9" y2="459.5" stroke="#00ff00" stroke-width="1.2"/>
<polygon points="72.8,435.6 80,439.5 72.8,443.4" fill="#00ff00"/>
<polygon points="210.9,435.6 203.7,439.5 210.9,443.4" fill="#00ff00"/>
<text x="136.4" y="373.2" font-size="11" text-anchor="middle" fill="#000">379.0</text>
<circle cx="74.9" cy="395.1" r="2.2" fill="none" stroke="#00ff00" stroke-width="1.6"/>
<circle cx="79.7" cy="392.5" r="2.2" fill="none" stroke="#00ff00" stroke-width="1.6"/>
<circle cx="79.7" cy="396.9" r="2.2" fill="none" stroke="#00ff00" stroke-width="1.6"/>
<circle cx="79.7" cy="399.5" r="2.2" fill="none" stroke="#00ff00" stroke-width="1.6"/>
<circle cx="79.7" cy="403" r="2.2" fill="none" stroke="#00ff00" stroke-width="1.6"/>
<circle cx="93.3" cy="397.8" r="2.2" fill="none" stroke="#00ff00" stroke-width="1.6"/>
<circle cx="98.1" cy="397.8" r="2.2" fill="none" stroke="#00ff00" stroke-width="1.6"/>
<circle cx="112" cy="402.6" r="2.2" fill="none" stroke="#00ff00" stroke-width="1.6"/>
<circle cx="112" cy="407.4" r="2.2" fill="none" stroke="#00ff00" stroke-width="1.6"/>
<circle cx="116.6" cy="387.6" r="2.2" fill="none" stroke="#00ff00" stroke-width="1.6"/>
<circle cx="116.6" cy="391.2" r="2.2" fill="none" stroke="#00ff00" stroke-width="1.6"/>
<circle cx="116.6" cy="395.1" r="2.2" fill="none" stroke="#00ff00" stroke-width="1.6"/>
<circle cx="116.6" cy="400.4" r="2.2" fill="none" stroke="#00ff00" stroke-width="1.6"/>
<circle cx="116.6" cy="405.1" r="2.2" fill="none" stroke="#00ff00" stroke-width="1.6"/>
<circle cx="121.1" cy="383.9" r="2.2" fill="none" stroke="#00ff00" stroke-width="1.6"/>
<circle cx="121.1" cy="388.7" r="2.2" fill="none" stroke="#00ff00" stroke-width="1.6"/>
<circle cx="121.1" cy="394" r="2.2" fill="none" stroke="#00ff00" stroke-width="1.6"/>
<circle cx="121.1" cy="398.8" r="2.2" fill="none" stroke="#00ff00" stroke-width="1.6"/>
<circle cx="121.1" cy="402.6" r="2.2" fill="none" stroke="#00ff00" stroke-width="1.6"/>
<circle cx="121.1" cy="406.3" r="2.2" fill="none" stroke="#00ff00" stroke-width="1.6"/>
<circle cx="125.9" cy="386.3" r="2.2" fill="none" stroke="#00ff00" stroke-width="1.6"/>
<circle cx="125.9" cy="391.6" r="2.2" fill="none" stroke="#00ff00" stroke-width="1.6"/>
<circle cx="125.9" cy="395.9" r="2.2" fill="none" stroke="#00ff00" stroke-width="1.6"/>
<circle cx="125.5" cy="411.2" r="2.2" fill="none" stroke="#00ff00" stroke-width="1.6"/>
<circle cx="130.2" cy="378.6" r="2.2" fill="none" stroke="#00ff00" stroke-width="1.6"/>
<circle cx="130.5" cy="391.9" r="2.2" fill="none" stroke="#00ff00" stroke-width="1.6"/>
<circle cx="130.5" cy="398.8" r="2.2" fill="none" stroke="#00ff00" stroke-width="1.6"/>
<circle cx="130.3" cy="411.2" r="2.2" fill="none" stroke="#00ff00" stroke-width="1.6"/>
<circle cx="134.9" cy="380" r="2.2" fill="none" stroke="#00ff00" stroke-width="1.6"/>
<circle cx="135" cy="384.4" r="2.2" fill="none" stroke="#00ff00" stroke-width="1.6"/>
<circle cx="135" cy="396.4" r="2.2" fill="none" stroke="#00ff00" stroke-width="1.6"/>
<circle cx="134.9" cy="413.4" r="2.2" fill="none" stroke="#00ff00" stroke-width="1.6"/>
<circle cx="134.9" cy="416.3" r="2.2" fill="none" stroke="#00ff00" stroke-width="1.6"/>
<circle cx="139.3" cy="382" r="2.2" fill="none" stroke="#00ff00" stroke-width="1.6"/>
<circle cx="139.3" cy="388.7" r="2.2" fill="none" stroke="#00ff00" stroke-width="1.6"/>
<circle cx="139.3" cy="401.6" r="2.2" fill="none" stroke="#00ff00" stroke-width="1.6"/>
<circle cx="139.3" cy="406.4" r="2.2" fill="none" stroke="#00ff00" stroke-width="1.6"/>
<circle cx="144" cy="393" r="2.2" fill="none" stroke="#00ff00" stroke-width="1.6"/>
<circle cx="148.8" cy="395.2" r="2.2" fill="none" stroke="#00ff00" stroke-width="1.6"/>
<circle cx="148.8" cy="398.7" r="2.2" fill="none" stroke="#00ff00" stroke-width="1.6"/>
<circle cx="148.8" cy="402.6" r="2.2" fill="none" stroke="#00ff00" stroke-width="1.6"/>
<circle cx="158" cy="393.9" r="2.2" fill="none" stroke="#00ff00" stroke-width="1.6"/>
<circle cx="158" cy="398.7" r="2.2" fill="none" stroke="#00ff00" stroke-width="1.6"/>
<circle cx="162.3" cy="396.5" r="2.2" fill="none" stroke="#00ff00" stroke-width="1.6"/>
<circle cx="162.3" cy="401.7" r="2.2" fill="none" stroke="#00ff00" stroke-width="1.6"/>
<circle cx="167.1" cy="396" r="2.2" fill="none" stroke="#00ff00" stroke-width="1.6"/>
<circle cx="171.5" cy="398.8" r="2.2" fill="none" stroke="#00ff00" stroke-width="1.6"/>
<circle cx="180.7" cy="394.3" r="2.2" fill="none" stroke="#00ff00" stroke-width="1.6"/>
<circle cx="180.7" cy="396.5" r="2.2" fill="none" stroke="#00ff00" stroke-width="1.6"/>
<circle cx="185.5" cy="396" r="2.2" fill="none" stroke="#00ff00" stroke-width="1.6"/>
<circle cx="185.5" cy="401.3" r="2.2" fill="none" stroke="#00ff00" stroke-width="1.6"/>
<circle cx="189.9" cy="396" r="2.2" fill="none" stroke="#00ff00" stroke-width="1.6"/>
<circle cx="189.9" cy="398.8" r="2.2" fill="none" stroke="#00ff00" stroke-width="1.6"/>
<circle cx="203.6" cy="396.9" r="2.2" fill="none" stroke="#00ff00" stroke-width="1.6"/>
<circle cx="203.6" cy="400.6" r="2.2" fill="none" stroke="#00ff00" stroke-width="1.6"/>
<circle cx="208.4" cy="395.1" r="2.2" fill="none" stroke="#00ff00" stroke-width="1.6"/>
<text x="339.4" y="19.9" font-size="25" font-weight="bold" fill="#000">B</text>
<path d="M485.40 112.80L488.10 115.50M485.40 107.30L493.60 115.50M485.40 101.80L499.10 115.50M485.40 96.30L504.60 115.50M485.40 90.80L510.10 115.50M485.40 85.30L515.60 115.50M485.40 79.80L518.60 113.00M485.40 74.30L518.60 107.50M485.40 68.80L518.60 102.00M485.40 63.30L518.60 96.50M485.40 57.80L518.60 91.00M485.40 52.30L518.60 85.50M490.89 52.29L518.60 80.00M496.39 52.29L518.60 74.50M501.89 52.29L518.60 69.00M507.39 52.29L518.60 63.50M512.89 52.29L518.60 58.00M518.39 52.29L518.60 52.50" stroke="#ff00ff" stroke-width="1.0" fill="none"/>
<rect x="485.4" y="52.29" width="33.2" height="63.21" fill="none" stroke="#ff00ff" stroke-width="1.3"/>
<path d="M518.60 113.00L521.10 115.50M518.60 107.50L526.60 115.50M518.60 102.00L532.10 115.50M518.60 96.50L537.60 115.50M518.60 91.00L543.10 115.50M518.60 85.50L548.60 115.50M518.60 80.00L551.80 113.20M518.60 74.50L551.80 107.70M522.00 72.41L551.80 102.20M527.50 72.41L551.80 96.70M533.00 72.41L551.80 91.20M538.50 72.41L551.80 85.70M544.00 72.41L551.80 80.20M549.50 72.41L551.80 74.70" stroke="#ff00ff" stroke-width="1.0" fill="none"/>
<rect x="518.6" y="72.41" width="33.2" height="43.1" fill="none" stroke="#ff00ff" stroke-width="1.3"/>
<path d="M551.80 113.20L554.10 115.50M551.80 107.70L559.60 115.50M551.80 102.20L565.10 115.50M551.80 96.70L570.60 115.50M551.80 91.20L576.10 115.50M551.80 85.70L581.60 115.50M551.80 80.20L585.00 113.40M551.80 74.70L585.00 107.90M551.80 69.20L585.00 102.40M551.80 63.70L585.00 96.90M551.80 58.20L585.00 91.40M551.80 52.70L585.00 85.90M551.80 47.20L585.00 80.40M551.80 41.70L585.00 74.90M553.53 37.93L585.00 69.40M559.03 37.93L585.00 63.90M564.53 37.93L585.00 58.40M570.03 37.93L585.00 52.90M575.53 37.93L585.00 47.40M581.03 37.93L585.00 41.90" stroke="#ff00ff" stroke-width="1.0" fill="none"/>
<rect x="551.8" y="37.93" width="33.2" height="77.57" fill="none" stroke="#ff00ff" stroke-width="1.3"/>
<path d="M585.00 113.40L587.10 115.50M585.00 107.90L592.60 115.50M585.00 102.40L598.10 115.50M589.24 101.13L603.60 115.50M594.74 101.13L609.10 115.50M600.24 101.13L614.60 115.50M605.74 101.13L618.20 113.60M611.24 101.13L618.20 108.10M616.74 101.13L618.20 102.60" stroke="#ff00ff" stroke-width="1.0" fill="none"/>
<rect x="585" y="101.13" width="33.2" height="14.37" fill="none" stroke="#ff00ff" stroke-width="1.3"/>
<path d="M618.20 113.60L620.10 115.50M618.20 108.10L625.60 115.50M622.48 106.88L631.10 115.50M627.98 106.88L636.60 115.50M633.48 106.88L642.10 115.50M638.98 106.88L647.60 115.50M644.48 106.88L651.40 113.80M649.98 106.88L651.40 108.30" stroke="#ff00ff" stroke-width="1.0" fill="none"/>
<rect x="618.2" y="106.88" width="33.2" height="8.62" fill="none" stroke="#ff00ff" stroke-width="1.3"/>
<path d="M619.40 21.30L623.00 24.90M619.40 15.80L628.50 24.90M619.40 10.30L634.00 24.90M623.30 8.70L639.50 24.90M628.80 8.70L645.00 24.90M634.30 8.70L650.50 24.90M639.80 8.70L654.30 23.20M645.30 8.70L654.30 17.70M650.80 8.70L654.30 12.20" stroke="#ff00ff" stroke-width="1.0" fill="none"/>
<rect x="619.4" y="8.7" width="34.9" height="16.2" fill="none" stroke="#ff00ff" stroke-width="1.3"/>
<text transform="translate(658.6,22.4) scale(1.06,1)" font-size="15.6" fill="#000" stroke="#000" stroke-width="0.2">TZ</text>
<line x1="381.4" y1="115.5" x2="385.8" y2="115.5" stroke="#222" stroke-width="1.2"/>
<text x="377.8" y="120.1" font-size="13" text-anchor="end" fill="#000">0</text>
<line x1="383.6" y1="101.13" x2="385.8" y2="101.13" stroke="#222" stroke-width="1.2"/>
<line x1="381.4" y1="86.77" x2="385.8" y2="86.77" stroke="#222" stroke-width="1.2"/>
<text x="377.8" y="91.37" font-size="13" text-anchor="end" fill="#000">10</text>
<line x1="383.6" y1="72.41" x2="385.8" y2="72.41" stroke="#222" stroke-width="1.2"/>
<line x1="381.4" y1="58.04" x2="385.8" y2="58.04" stroke="#222" stroke-width="1.2"/>
<text x="377.8" y="62.64" font-size="13" text-anchor="end" fill="#000">20</text>
<line x1="383.6" y1="43.67" x2="385.8" y2="43.67" stroke="#222" stroke-width="1.2"/>
<line x1="381.4" y1="29.31" x2="385.8" y2="29.31" stroke="#222" stroke-width="1.2"/>
<text x="377.8" y="33.91" font-size="13" text-anchor="end" fill="#000">30</text>
<line x1="383.6" y1="14.94" x2="385.8" y2="14.94" stroke="#222" stroke-width="1.2"/>
<line x1="419" y1="115.5" x2="419" y2="117.7" stroke="#222" stroke-width="1.2"/>
<line x1="452.2" y1="115.5" x2="452.2" y2="119.9" stroke="#222" stroke-width="1.2"/>
<line x1="485.4" y1="115.5" x2="485.4" y2="117.7" stroke="#222" stroke-width="1.2"/>
<line x1="518.6" y1="115.5" x2="518.6" y2="119.9" stroke="#222" stroke-width="1.2"/>
<line x1="551.8" y1="115.5" x2="551.8" y2="117.7" stroke="#222" stroke-width="1.2"/>
<line x1="585" y1="115.5" x2="585" y2="119.9" stroke="#222" stroke-width="1.2"/>
<line x1="618.2" y1="115.5" x2="618.2" y2="117.7" stroke="#222" stroke-width="1.2"/>
<line x1="651.4" y1="115.5" x2="651.4" y2="119.9" stroke="#222" stroke-width="1.2"/>
<line x1="385.8" y1="115.5" x2="685" y2="115.5" stroke="#111" stroke-width="1.3"/>
<text transform="translate(358.3,58.02) rotate(-90) scale(0.945,1.05)" x="0" y="0" font-size="15" text-anchor="middle" fill="#000">Count</text>
<path d="M419.00 233.40L419.40 233.80M419.00 227.90L424.90 233.80M419.00 222.40L430.40 233.80M419.00 216.90L435.90 233.80M420.63 213.03L441.40 233.80M426.13 213.03L446.90 233.80M431.63 213.03L452.20 233.60M437.13 213.03L452.20 228.10M442.63 213.03L452.20 222.60M448.13 213.03L452.20 217.10" stroke="#ff0000" stroke-width="1.0" fill="none"/>
<rect x="419" y="213.03" width="33.2" height="20.77" fill="none" stroke="#ff0000" stroke-width="1.3"/>
<path d="M452.20 233.60L452.40 233.80M452.20 228.10L457.90 233.80M457.47 227.87L463.40 233.80M462.97 227.87L468.90 233.80M468.47 227.87L474.40 233.80M473.97 227.87L479.90 233.80M479.47 227.87L485.40 233.80M484.97 227.87L485.40 228.30" stroke="#ff0000" stroke-width="1.0" fill="none"/>
<rect x="452.2" y="227.87" width="33.2" height="5.93" fill="none" stroke="#ff0000" stroke-width="1.3"/>
<path d="M485.40 228.30L490.90 233.80M485.40 222.80L496.40 233.80M485.40 217.30L501.90 233.80M485.40 211.80L507.40 233.80M485.40 206.30L512.90 233.80M485.40 200.80L518.40 233.80M485.40 195.30L518.60 228.50M485.40 189.80L518.60 223.00M485.40 184.30L518.60 217.50M485.40 178.80L518.60 212.00M486.56 174.46L518.60 206.50M492.06 174.46L518.60 201.00M497.56 174.46L518.60 195.50M503.06 174.46L518.60 190.00M508.56 174.46L518.60 184.50M514.06 174.46L518.60 179.00" stroke="#ff0000" stroke-width="1.0" fill="none"/>
<rect x="485.4" y="174.46" width="33.2" height="59.34" fill="none" stroke="#ff0000" stroke-width="1.3"/>
<path d="M518.60 228.50L523.90 233.80M518.60 223.00L529.40 233.80M518.60 217.50L534.90 233.80M518.60 212.00L540.40 233.80M518.60 206.50L545.90 233.80M518.60 201.00L551.40 233.80M518.60 195.50L551.80 228.70M518.60 190.00L551.80 223.20M523.39 189.30L551.80 217.70M528.89 189.30L551.80 212.20M534.39 189.30L551.80 206.70M539.89 189.30L551.80 201.20M545.39 189.30L551.80 195.70M550.89 189.30L551.80 190.20" stroke="#ff0000" stroke-width="1.0" fill="none"/>
<rect x="518.6" y="189.3" width="33.2" height="44.51" fill="none" stroke="#ff0000" stroke-width="1.3"/>
<path d="M551.80 228.70L556.90 233.80M551.80 223.20L562.40 233.80M551.80 217.70L567.90 233.80M551.80 212.20L573.40 233.80M551.80 206.70L578.90 233.80M551.80 201.20L584.40 233.80M551.80 195.70L585.00 228.90M551.80 190.20L585.00 223.40M551.80 184.70L585.00 217.90M551.80 179.20L585.00 212.40M552.56 174.46L585.00 206.90M558.06 174.46L585.00 201.40M563.56 174.46L585.00 195.90M569.06 174.46L585.00 190.40M574.56 174.46L585.00 184.90M580.06 174.46L585.00 179.40" stroke="#ff0000" stroke-width="1.0" fill="none"/>
<rect x="551.8" y="174.46" width="33.2" height="59.34" fill="none" stroke="#ff0000" stroke-width="1.3"/>
<path d="M585.00 228.90L589.90 233.80M585.00 223.40L595.40 233.80M585.00 217.90L600.90 233.80M585.00 212.40L606.40 233.80M588.16 210.06L611.90 233.80M593.66 210.06L617.40 233.80M599.16 210.06L618.20 229.10M604.66 210.06L618.20 223.60M610.16 210.06L618.20 218.10M615.66 210.06L618.20 212.60" stroke="#ff0000" stroke-width="1.0" fill="none"/>
<rect x="585" y="210.06" width="33.2" height="23.74" fill="none" stroke="#ff0000" stroke-width="1.3"/>
<path d="M618.20 229.10L622.90 233.80M618.20 223.60L628.40 233.80M622.03 221.93L633.90 233.80M627.53 221.93L639.40 233.80M633.03 221.93L644.90 233.80M638.53 221.93L650.40 233.80M644.03 221.93L651.40 229.30M649.53 221.93L651.40 223.80" stroke="#ff0000" stroke-width="1.0" fill="none"/>
<rect x="618.2" y="221.93" width="33.2" height="11.87" fill="none" stroke="#ff0000" stroke-width="1.3"/>
<path d="M618.50 141.40L619.30 142.20M618.50 135.90L624.80 142.20M618.50 130.40L630.30 142.20M618.50 124.90L635.80 142.20M623.70 124.60L641.30 142.20M629.20 124.60L646.80 142.20M634.70 124.60L652.30 142.20M640.20 124.60L653.00 137.40M645.70 124.60L653.00 131.90M651.20 124.60L653.00 126.40" stroke="#ff0000" stroke-width="1.0" fill="none"/>
<rect x="618.5" y="124.6" width="34.5" height="17.6" fill="none" stroke="#ff0000" stroke-width="1.3"/>
<text transform="translate(657.3,139) scale(1.06,1)" font-size="15.6" fill="#000" stroke="#000" stroke-width="0.2">EF</text>
<line x1="381.4" y1="233.8" x2="385.8" y2="233.8" stroke="#222" stroke-width="1.2"/>
<text x="377.8" y="238.4" font-size="13" text-anchor="end" fill="#000">0</text>
<line x1="383.6" y1="218.97" x2="385.8" y2="218.97" stroke="#222" stroke-width="1.2"/>
<line x1="381.4" y1="204.13" x2="385.8" y2="204.13" stroke="#222" stroke-width="1.2"/>
<text x="377.8" y="208.73" font-size="13" text-anchor="end" fill="#000">10</text>
<line x1="383.6" y1="189.3" x2="385.8" y2="189.3" stroke="#222" stroke-width="1.2"/>
<line x1="381.4" y1="174.46" x2="385.8" y2="174.46" stroke="#222" stroke-width="1.2"/>
<text x="377.8" y="179.06" font-size="13" text-anchor="end" fill="#000">20</text>
<line x1="383.6" y1="159.62" x2="385.8" y2="159.62" stroke="#222" stroke-width="1.2"/>
<line x1="381.4" y1="144.79" x2="385.8" y2="144.79" stroke="#222" stroke-width="1.2"/>
<text x="377.8" y="149.39" font-size="13" text-anchor="end" fill="#000">30</text>
<line x1="383.6" y1="129.96" x2="385.8" y2="129.96" stroke="#222" stroke-width="1.2"/>
<line x1="419" y1="233.8" x2="419" y2="236" stroke="#222" stroke-width="1.2"/>
<line x1="452.2" y1="233.8" x2="452.2" y2="238.2" stroke="#222" stroke-width="1.2"/>
<line x1="485.4" y1="233.8" x2="485.4" y2="236" stroke="#222" stroke-width="1.2"/>
<line x1="518.6" y1="233.8" x2="518.6" y2="238.2" stroke="#222" stroke-width="1.2"/>
<line x1="551.8" y1="233.8" x2="551.8" y2="236" stroke="#222" stroke-width="1.2"/>
<line x1="585" y1="233.8" x2="585" y2="238.2" stroke="#222" stroke-width="1.2"/>
<line x1="618.2" y1="233.8" x2="618.2" y2="236" stroke="#222" stroke-width="1.2"/>
<line x1="651.4" y1="233.8" x2="651.4" y2="238.2" stroke="#222" stroke-width="1.2"/>
<line x1="385.8" y1="233.8" x2="685" y2="233.8" stroke="#111" stroke-width="1.3"/>
<text transform="translate(358.3,174.55) rotate(-90) scale(0.945,1.05)" x="0" y="0" font-size="15" text-anchor="middle" fill="#000">Count</text>
<path d="M419.00 348.90L422.10 352.00M421.70 346.10L427.60 352.00M427.20 346.10L433.10 352.00M432.70 346.10L438.60 352.00M438.20 346.10L444.10 352.00M443.70 346.10L449.60 352.00M449.20 346.10L452.20 349.10" stroke="#0000ff" stroke-width="1.0" fill="none"/>
<rect x="419" y="346.1" width="33.2" height="5.9" fill="none" stroke="#0000ff" stroke-width="1.3"/>
<path d="M452.20 349.10L455.10 352.00M454.70 346.10L460.60 352.00M460.20 346.10L466.10 352.00M465.70 346.10L471.60 352.00M471.20 346.10L477.10 352.00M476.70 346.10L482.60 352.00M482.20 346.10L485.40 349.30" stroke="#0000ff" stroke-width="1.0" fill="none"/>
<rect x="452.2" y="346.1" width="33.2" height="5.9" fill="none" stroke="#0000ff" stroke-width="1.3"/>
<path d="M485.40 349.30L488.10 352.00M485.40 343.80L493.60 352.00M485.40 338.30L499.10 352.00M485.40 332.80L504.60 352.00M485.40 327.30L510.10 352.00M485.40 321.80L515.60 352.00M485.40 316.30L518.60 349.50M485.40 310.80L518.60 344.00M485.40 305.30L518.60 338.50M485.40 299.80L518.60 333.00M485.40 294.30L518.60 327.50M485.40 288.80L518.60 322.00M485.40 283.30L518.60 316.50M485.85 278.25L518.60 311.00M491.35 278.25L518.60 305.50M496.85 278.25L518.60 300.00M502.35 278.25L518.60 294.50M507.85 278.25L518.60 289.00M513.35 278.25L518.60 283.50" stroke="#0000ff" stroke-width="1.0" fill="none"/>
<rect x="485.4" y="278.25" width="33.2" height="73.75" fill="none" stroke="#0000ff" stroke-width="1.3"/>
<path d="M518.60 349.50L521.10 352.00M518.60 344.00L526.60 352.00M518.60 338.50L532.10 352.00M518.60 333.00L537.60 352.00M518.60 327.50L543.10 352.00M519.10 322.50L548.60 352.00M524.60 322.50L551.80 349.70M530.10 322.50L551.80 344.20M535.60 322.50L551.80 338.70M541.10 322.50L551.80 333.20M546.60 322.50L551.80 327.70" stroke="#0000ff" stroke-width="1.0" fill="none"/>
<rect x="518.6" y="322.5" width="33.2" height="29.5" fill="none" stroke="#0000ff" stroke-width="1.3"/>
<path d="M551.80 349.70L554.10 352.00M551.80 344.20L559.60 352.00M551.80 338.70L565.10 352.00M551.80 333.20L570.60 352.00M551.80 327.70L576.10 352.00M551.80 322.20L581.60 352.00M551.80 316.70L585.00 349.90M551.80 311.20L585.00 344.40M551.80 305.70L585.00 338.90M553.45 301.85L585.00 333.40M558.95 301.85L585.00 327.90M564.45 301.85L585.00 322.40M569.95 301.85L585.00 316.90M575.45 301.85L585.00 311.40M580.95 301.85L585.00 305.90" stroke="#0000ff" stroke-width="1.0" fill="none"/>
<rect x="551.8" y="301.85" width="33.2" height="50.15" fill="none" stroke="#0000ff" stroke-width="1.3"/>
<path d="M585.00 349.90L587.10 352.00M585.00 344.40L592.60 352.00M586.30 340.20L598.10 352.00M591.80 340.20L603.60 352.00M597.30 340.20L609.10 352.00M602.80 340.20L614.60 352.00M608.30 340.20L618.20 350.10M613.80 340.20L618.20 344.60" stroke="#0000ff" stroke-width="1.0" fill="none"/>
<rect x="585" y="340.2" width="33.2" height="11.8" fill="none" stroke="#0000ff" stroke-width="1.3"/>
<path d="M617.60 256.00L622.50 260.90M617.60 250.50L628.00 260.90M617.60 245.00L633.50 260.90M622.40 244.30L639.00 260.90M627.90 244.30L644.50 260.90M633.40 244.30L650.00 260.90M638.90 244.30L651.80 257.20M644.40 244.30L651.80 251.70M649.90 244.30L651.80 246.20" stroke="#0000ff" stroke-width="1.0" fill="none"/>
<rect x="617.6" y="244.3" width="34.2" height="16.6" fill="none" stroke="#0000ff" stroke-width="1.3"/>
<text transform="translate(656.1,258.2) scale(1.06,1)" font-size="15.6" fill="#000" stroke="#000" stroke-width="0.2">EP</text>
<line x1="381.4" y1="352" x2="385.8" y2="352" stroke="#222" stroke-width="1.2"/>
<text x="377.8" y="356.6" font-size="13" text-anchor="end" fill="#000">0</text>
<line x1="383.6" y1="337.25" x2="385.8" y2="337.25" stroke="#222" stroke-width="1.2"/>
<line x1="381.4" y1="322.5" x2="385.8" y2="322.5" stroke="#222" stroke-width="1.2"/>
<text x="377.8" y="327.1" font-size="13" text-anchor="end" fill="#000">10</text>
<line x1="383.6" y1="307.75" x2="385.8" y2="307.75" stroke="#222" stroke-width="1.2"/>
<line x1="381.4" y1="293" x2="385.8" y2="293" stroke="#222" stroke-width="1.2"/>
<text x="377.8" y="297.6" font-size="13" text-anchor="end" fill="#000">20</text>
<line x1="383.6" y1="278.25" x2="385.8" y2="278.25" stroke="#222" stroke-width="1.2"/>
<line x1="381.4" y1="263.5" x2="385.8" y2="263.5" stroke="#222" stroke-width="1.2"/>
<text x="377.8" y="268.1" font-size="13" text-anchor="end" fill="#000">30</text>
<line x1="383.6" y1="248.75" x2="385.8" y2="248.75" stroke="#222" stroke-width="1.2"/>
<line x1="419" y1="352" x2="419" y2="354.2" stroke="#222" stroke-width="1.2"/>
<line x1="452.2" y1="352" x2="452.2" y2="356.4" stroke="#222" stroke-width="1.2"/>
<line x1="485.4" y1="352" x2="485.4" y2="354.2" stroke="#222" stroke-width="1.2"/>
<line x1="518.6" y1="352" x2="518.6" y2="356.4" stroke="#222" stroke-width="1.2"/>
<line x1="551.8" y1="352" x2="551.8" y2="354.2" stroke="#222" stroke-width="1.2"/>
<line x1="585" y1="352" x2="585" y2="356.4" stroke="#222" stroke-width="1.2"/>
<line x1="618.2" y1="352" x2="618.2" y2="354.2" stroke="#222" stroke-width="1.2"/>
<line x1="651.4" y1="352" x2="651.4" y2="356.4" stroke="#222" stroke-width="1.2"/>
<line x1="385.8" y1="352" x2="685" y2="352" stroke="#111" stroke-width="1.3"/>
<text transform="translate(358.3,292.8) rotate(-90) scale(0.945,1.05)" x="0" y="0" font-size="15" text-anchor="middle" fill="#000">Count</text>
<path d="M419.00 469.90L419.40 470.30M419.00 464.40L424.90 470.30M419.00 458.90L430.40 470.30M421.07 455.47L435.90 470.30M426.57 455.47L441.40 470.30M432.07 455.47L446.90 470.30M437.57 455.47L452.20 470.10M443.07 455.47L452.20 464.60M448.57 455.47L452.20 459.10" stroke="#00ff00" stroke-width="1.0" fill="none"/>
<rect x="419" y="455.47" width="33.2" height="14.84" fill="none" stroke="#00ff00" stroke-width="1.3"/>
<path d="M452.20 470.10L452.40 470.30M452.20 464.60L457.90 470.30M452.20 459.10L463.40 470.30M457.03 458.43L468.90 470.30M462.53 458.43L474.40 470.30M468.03 458.43L479.90 470.30M473.53 458.43L485.40 470.30M479.03 458.43L485.40 464.80M484.53 458.43L485.40 459.30" stroke="#00ff00" stroke-width="1.0" fill="none"/>
<rect x="452.2" y="458.43" width="33.2" height="11.87" fill="none" stroke="#00ff00" stroke-width="1.3"/>
<path d="M485.40 464.80L490.90 470.30M485.40 459.30L496.40 470.30M485.40 453.80L501.90 470.30M485.40 448.30L507.40 470.30M485.40 442.80L512.90 470.30M485.40 437.30L518.40 470.30M485.40 431.80L518.60 465.00M485.40 426.30L518.60 459.50M485.40 420.80L518.60 454.00M485.40 415.30L518.60 448.50M485.40 409.80L518.60 443.00M485.40 404.30L518.60 437.50M485.40 398.80L518.60 432.00M485.40 393.30L518.60 426.50M485.40 387.80L518.60 421.00M485.40 382.30L518.60 415.50M485.40 376.80L518.60 410.00M485.40 371.30L518.60 404.50M486.06 366.46L518.60 399.00M491.56 366.46L518.60 393.50M497.06 366.46L518.60 388.00M502.56 366.46L518.60 382.50M508.06 366.46L518.60 377.00M513.56 366.46L518.60 371.50" stroke="#00ff00" stroke-width="1.0" fill="none"/>
<rect x="485.4" y="366.46" width="33.2" height="103.84" fill="none" stroke="#00ff00" stroke-width="1.3"/>
<path d="M518.60 465.00L523.90 470.30M518.60 459.50L529.40 470.30M518.60 454.00L534.90 470.30M518.60 448.50L540.40 470.30M518.60 443.00L545.90 470.30M521.73 440.63L551.40 470.30M527.23 440.63L551.80 465.20M532.73 440.63L551.80 459.70M538.23 440.63L551.80 454.20M543.73 440.63L551.80 448.70M549.23 440.63L551.80 443.20" stroke="#00ff00" stroke-width="1.0" fill="none"/>
<rect x="518.6" y="440.63" width="33.2" height="29.67" fill="none" stroke="#00ff00" stroke-width="1.3"/>
<path d="M551.80 465.20L556.90 470.30M551.80 459.70L562.40 470.30M551.80 454.20L567.90 470.30M552.63 449.53L573.40 470.30M558.13 449.53L578.90 470.30M563.63 449.53L584.40 470.30M569.13 449.53L585.00 465.40M574.63 449.53L585.00 459.90M580.13 449.53L585.00 454.40" stroke="#00ff00" stroke-width="1.0" fill="none"/>
<rect x="551.8" y="449.53" width="33.2" height="20.77" fill="none" stroke="#00ff00" stroke-width="1.3"/>
<path d="M585.00 465.40L589.90 470.30M586.50 461.40L595.40 470.30M592.00 461.40L600.90 470.30M597.50 461.40L606.40 470.30M603.00 461.40L611.90 470.30M608.50 461.40L617.40 470.30M614.00 461.40L618.20 465.60" stroke="#00ff00" stroke-width="1.0" fill="none"/>
<rect x="585" y="461.4" width="33.2" height="8.9" fill="none" stroke="#00ff00" stroke-width="1.3"/>
<path d="M619.30 373.20L622.40 376.30M619.30 367.70L627.90 376.30M619.30 362.20L633.40 376.30M622.20 359.60L638.90 376.30M627.70 359.60L644.40 376.30M633.20 359.60L649.90 376.30M638.70 359.60L653.00 373.90M644.20 359.60L653.00 368.40M649.70 359.60L653.00 362.90" stroke="#00ff00" stroke-width="1.0" fill="none"/>
<rect x="619.3" y="359.6" width="33.7" height="16.7" fill="none" stroke="#00ff00" stroke-width="1.3"/>
<text transform="translate(657.3,373.55) scale(1.06,1)" font-size="15.6" fill="#000" stroke="#000" stroke-width="0.2">EB</text>
<line x1="381.4" y1="470.3" x2="385.8" y2="470.3" stroke="#222" stroke-width="1.2"/>
<text x="377.8" y="474.9" font-size="13" text-anchor="end" fill="#000">0</text>
<line x1="383.6" y1="455.47" x2="385.8" y2="455.47" stroke="#222" stroke-width="1.2"/>
<line x1="381.4" y1="440.63" x2="385.8" y2="440.63" stroke="#222" stroke-width="1.2"/>
<text x="377.8" y="445.23" font-size="13" text-anchor="end" fill="#000">10</text>
<line x1="383.6" y1="425.8" x2="385.8" y2="425.8" stroke="#222" stroke-width="1.2"/>
<line x1="381.4" y1="410.96" x2="385.8" y2="410.96" stroke="#222" stroke-width="1.2"/>
<text x="377.8" y="415.56" font-size="13" text-anchor="end" fill="#000">20</text>
<line x1="383.6" y1="396.12" x2="385.8" y2="396.12" stroke="#222" stroke-width="1.2"/>
<line x1="381.4" y1="381.29" x2="385.8" y2="381.29" stroke="#222" stroke-width="1.2"/>
<text x="377.8" y="385.89" font-size="13" text-anchor="end" fill="#000">30</text>
<line x1="383.6" y1="366.46" x2="385.8" y2="366.46" stroke="#222" stroke-width="1.2"/>
<line x1="419" y1="470.3" x2="419" y2="472.5" stroke="#222" stroke-width="1.2"/>
<line x1="452.2" y1="470.3" x2="452.2" y2="474.7" stroke="#222" stroke-width="1.2"/>
<line x1="485.4" y1="470.3" x2="485.4" y2="472.5" stroke="#222" stroke-width="1.2"/>
<line x1="518.6" y1="470.3" x2="518.6" y2="474.7" stroke="#222" stroke-width="1.2"/>
<line x1="551.8" y1="470.3" x2="551.8" y2="472.5" stroke="#222" stroke-width="1.2"/>
<line x1="585" y1="470.3" x2="585" y2="474.7" stroke="#222" stroke-width="1.2"/>
<line x1="618.2" y1="470.3" x2="618.2" y2="472.5" stroke="#222" stroke-width="1.2"/>
<line x1="651.4" y1="470.3" x2="651.4" y2="474.7" stroke="#222" stroke-width="1.2"/>
<line x1="385.8" y1="470.3" x2="685" y2="470.3" stroke="#111" stroke-width="1.3"/>
<text transform="translate(358.3,411.05) rotate(-90) scale(0.945,1.05)" x="0" y="0" font-size="15" text-anchor="middle" fill="#000">Count</text>
<line x1="385.8" y1="0" x2="385.8" y2="474.5" stroke="#333" stroke-width="1.5"/>
<line x1="385.8" y1="0.75" x2="685" y2="0.75" stroke="#4a4a4a" stroke-width="1.5"/>
<line x1="684.2" y1="0" x2="684.2" y2="471" stroke="#333" stroke-width="1.3"/>
<text transform="translate(385.6,490.7) scale(1,1.03)" font-size="16" text-anchor="middle" fill="#000">360</text>
<text transform="translate(452,490.7) scale(1,1.03)" font-size="16" text-anchor="middle" fill="#000">370</text>
<text transform="translate(518.4,490.7) scale(1,1.03)" font-size="16" text-anchor="middle" fill="#000">380</text>
<text transform="translate(584.8,490.7) scale(1,1.03)" font-size="16" text-anchor="middle" fill="#000">390</text>
<text transform="translate(651.2,490.7) scale(1,1.03)" font-size="16" text-anchor="middle" fill="#000">400</text>
<text x="535.3" y="517.1" font-size="17.8" text-anchor="middle" fill="#000">Wavelength [nm]</text>
</svg></body></html>
